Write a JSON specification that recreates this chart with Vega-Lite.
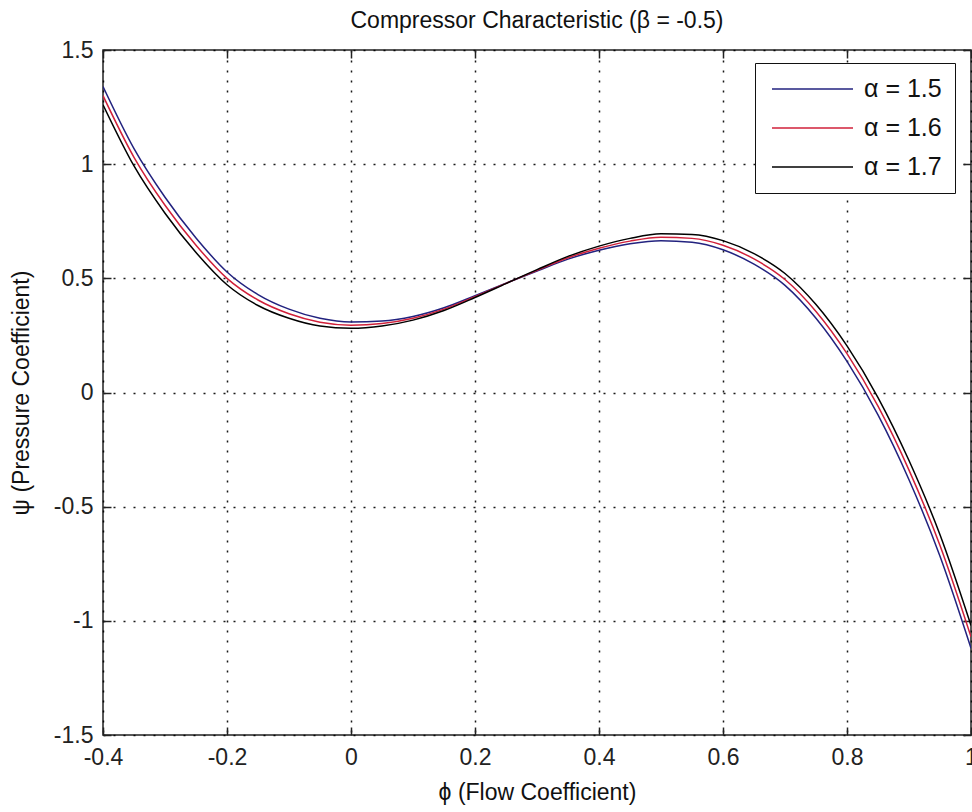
{
  "$schema": "https://vega.github.io/schema/vega-lite/v6.json",
  "autosize": {"type": "none"},
  "padding": {"left": 103, "top": 50, "right": 1, "bottom": 77},
  "width": 868,
  "height": 685,
  "background": "white",
  "title": {"text": "Compressor Characteristic (β = -0.5)", "fontSize": 23, "font": "Liberation Sans", "fontWeight": "normal", "color": "#111", "anchor": "middle", "offset": 6},
  "config": {
    "font": "Liberation Sans",
    "view": {"stroke": "#222", "strokeWidth": 1.5},
    "axis": {"labelFont": "Liberation Sans", "titleFont": "Liberation Sans", "labelFontSize": 23, "titleFontSize": 23, "titleFontWeight": "normal", "labelColor": "#222", "titleColor": "#111", "domain": false, "tickColor": "#222", "tickWidth": 1.5, "tickSize": -8, "labelFlush": false, "labelOverlap": false}
  },
  "data": {"values": [
    {"phi": -0.4, "psi": 1.34, "alpha": "α = 1.5"},
    {"phi": -0.35, "psi": 1.068, "alpha": "α = 1.5"},
    {"phi": -0.3, "psi": 0.855, "alpha": "α = 1.5"},
    {"phi": -0.25, "psi": 0.677, "alpha": "α = 1.5"},
    {"phi": -0.2, "psi": 0.528, "alpha": "α = 1.5"},
    {"phi": -0.15, "psi": 0.429, "alpha": "α = 1.5"},
    {"phi": -0.1, "psi": 0.365, "alpha": "α = 1.5"},
    {"phi": -0.05, "psi": 0.325, "alpha": "α = 1.5"},
    {"phi": 0, "psi": 0.309, "alpha": "α = 1.5"},
    {"phi": 0.05, "psi": 0.313, "alpha": "α = 1.5"},
    {"phi": 0.1, "psi": 0.333, "alpha": "α = 1.5"},
    {"phi": 0.15, "psi": 0.371, "alpha": "α = 1.5"},
    {"phi": 0.2, "psi": 0.424, "alpha": "α = 1.5"},
    {"phi": 0.25, "psi": 0.479, "alpha": "α = 1.5"},
    {"phi": 0.3, "psi": 0.532, "alpha": "α = 1.5"},
    {"phi": 0.35, "psi": 0.584, "alpha": "α = 1.5"},
    {"phi": 0.4, "psi": 0.623, "alpha": "α = 1.5"},
    {"phi": 0.45, "psi": 0.651, "alpha": "α = 1.5"},
    {"phi": 0.5, "psi": 0.665, "alpha": "α = 1.5"},
    {"phi": 0.55, "psi": 0.658, "alpha": "α = 1.5"},
    {"phi": 0.6, "psi": 0.625, "alpha": "α = 1.5"},
    {"phi": 0.65, "psi": 0.562, "alpha": "α = 1.5"},
    {"phi": 0.7, "psi": 0.469, "alpha": "α = 1.5"},
    {"phi": 0.75, "psi": 0.325, "alpha": "α = 1.5"},
    {"phi": 0.8, "psi": 0.136, "alpha": "α = 1.5"},
    {"phi": 0.85, "psi": -0.098, "alpha": "α = 1.5"},
    {"phi": 0.9, "psi": -0.382, "alpha": "α = 1.5"},
    {"phi": 0.95, "psi": -0.717, "alpha": "α = 1.5"},
    {"phi": 1.0, "psi": -1.12, "alpha": "α = 1.5"},
    {"phi": -0.4, "psi": 1.30, "alpha": "α = 1.6"},
    {"phi": -0.35, "psi": 1.03, "alpha": "α = 1.6"},
    {"phi": -0.3, "psi": 0.82, "alpha": "α = 1.6"},
    {"phi": -0.25, "psi": 0.645, "alpha": "α = 1.6"},
    {"phi": -0.2, "psi": 0.50, "alpha": "α = 1.6"},
    {"phi": -0.15, "psi": 0.405, "alpha": "α = 1.6"},
    {"phi": -0.1, "psi": 0.345, "alpha": "α = 1.6"},
    {"phi": -0.05, "psi": 0.308, "alpha": "α = 1.6"},
    {"phi": 0, "psi": 0.295, "alpha": "α = 1.6"},
    {"phi": 0.05, "psi": 0.302, "alpha": "α = 1.6"},
    {"phi": 0.1, "psi": 0.325, "alpha": "α = 1.6"},
    {"phi": 0.15, "psi": 0.365, "alpha": "α = 1.6"},
    {"phi": 0.2, "psi": 0.42, "alpha": "α = 1.6"},
    {"phi": 0.25, "psi": 0.478, "alpha": "α = 1.6"},
    {"phi": 0.3, "psi": 0.535, "alpha": "α = 1.6"},
    {"phi": 0.35, "psi": 0.59, "alpha": "α = 1.6"},
    {"phi": 0.4, "psi": 0.632, "alpha": "α = 1.6"},
    {"phi": 0.45, "psi": 0.663, "alpha": "α = 1.6"},
    {"phi": 0.5, "psi": 0.68, "alpha": "α = 1.6"},
    {"phi": 0.55, "psi": 0.675, "alpha": "α = 1.6"},
    {"phi": 0.6, "psi": 0.645, "alpha": "α = 1.6"},
    {"phi": 0.65, "psi": 0.585, "alpha": "α = 1.6"},
    {"phi": 0.7, "psi": 0.495, "alpha": "α = 1.6"},
    {"phi": 0.75, "psi": 0.355, "alpha": "α = 1.6"},
    {"phi": 0.8, "psi": 0.17, "alpha": "α = 1.6"},
    {"phi": 0.85, "psi": -0.06, "alpha": "α = 1.6"},
    {"phi": 0.9, "psi": -0.34, "alpha": "α = 1.6"},
    {"phi": 0.95, "psi": -0.67, "alpha": "α = 1.6"},
    {"phi": 1.0, "psi": -1.07, "alpha": "α = 1.6"},
    {"phi": -0.4, "psi": 1.26, "alpha": "α = 1.7"},
    {"phi": -0.35, "psi": 0.992, "alpha": "α = 1.7"},
    {"phi": -0.3, "psi": 0.785, "alpha": "α = 1.7"},
    {"phi": -0.25, "psi": 0.613, "alpha": "α = 1.7"},
    {"phi": -0.2, "psi": 0.472, "alpha": "α = 1.7"},
    {"phi": -0.15, "psi": 0.381, "alpha": "α = 1.7"},
    {"phi": -0.1, "psi": 0.325, "alpha": "α = 1.7"},
    {"phi": -0.05, "psi": 0.291, "alpha": "α = 1.7"},
    {"phi": 0, "psi": 0.281, "alpha": "α = 1.7"},
    {"phi": 0.05, "psi": 0.291, "alpha": "α = 1.7"},
    {"phi": 0.1, "psi": 0.317, "alpha": "α = 1.7"},
    {"phi": 0.15, "psi": 0.359, "alpha": "α = 1.7"},
    {"phi": 0.2, "psi": 0.416, "alpha": "α = 1.7"},
    {"phi": 0.25, "psi": 0.477, "alpha": "α = 1.7"},
    {"phi": 0.3, "psi": 0.538, "alpha": "α = 1.7"},
    {"phi": 0.35, "psi": 0.596, "alpha": "α = 1.7"},
    {"phi": 0.4, "psi": 0.641, "alpha": "α = 1.7"},
    {"phi": 0.45, "psi": 0.675, "alpha": "α = 1.7"},
    {"phi": 0.5, "psi": 0.695, "alpha": "α = 1.7"},
    {"phi": 0.55, "psi": 0.692, "alpha": "α = 1.7"},
    {"phi": 0.6, "psi": 0.665, "alpha": "α = 1.7"},
    {"phi": 0.65, "psi": 0.608, "alpha": "α = 1.7"},
    {"phi": 0.7, "psi": 0.521, "alpha": "α = 1.7"},
    {"phi": 0.75, "psi": 0.385, "alpha": "α = 1.7"},
    {"phi": 0.8, "psi": 0.204, "alpha": "α = 1.7"},
    {"phi": 0.85, "psi": -0.022, "alpha": "α = 1.7"},
    {"phi": 0.9, "psi": -0.298, "alpha": "α = 1.7"},
    {"phi": 0.95, "psi": -0.623, "alpha": "α = 1.7"},
    {"phi": 1.0, "psi": -1.02, "alpha": "α = 1.7"}
  ]},
  "layer": [
    {
      "mark": {"type": "line", "interpolate": "monotone", "strokeWidth": 1.5, "clip": true},
      "encoding": {
        "x": {"field": "phi", "type": "quantitative", "scale": {"domain": [-0.4, 1], "nice": false, "zero": false},
              "axis": {"orient": "bottom", "values": [-0.4, -0.2, 0, 0.2, 0.4, 0.6, 0.8, 1], "labelExpr": "'' + datum.value", "grid": true, "gridDash": [2, 8], "gridColor": "#000", "gridWidth": 1.5, "gridOpacity": 0.9, "labelPadding": 19, "title": "ϕ (Flow Coefficient)", "titlePadding": 12}},
        "y": {"field": "psi", "type": "quantitative", "scale": {"domain": [-1.5, 1.5], "nice": false, "zero": false},
              "axis": {"orient": "left", "values": [-1.5, -1, -0.5, 0, 0.5, 1, 1.5], "labelExpr": "'' + datum.value", "grid": true, "gridDash": [2, 8], "gridColor": "#000", "gridWidth": 1.5, "gridOpacity": 0.9, "labelPadding": 18, "title": "ψ (Pressure Coefficient)", "titlePadding": 20}},
        "color": {"field": "alpha", "type": "nominal",
                  "scale": {"domain": ["α = 1.5", "α = 1.6", "α = 1.7"], "range": ["#22227f", "#d0203a", "#000000"]},
                  "legend": {"orient": "none", "legendX": 652, "legendY": 13, "title": null, "symbolType": "M-3.375,0H3.375", "symbolSize": 576, "symbolOffset": 31.5, "symbolStrokeWidth": 1.5, "labelFontSize": 25, "labelFont": "Liberation Sans", "labelColor": "#111", "labelOffset": 38.5, "strokeColor": "#111", "fillColor": "white", "padding": 13, "rowPadding": 13}}
      }
    },
    {
      "mark": {"type": "line", "opacity": 0},
      "encoding": {
        "x": {"field": "phi", "type": "quantitative", "axis": {"orient": "top", "values": [-0.4, -0.2, 0, 0.2, 0.4, 0.6, 0.8, 1], "labels": false, "grid": false, "title": null}},
        "y": {"field": "psi", "type": "quantitative", "axis": {"orient": "right", "values": [-1.5, -1, -0.5, 0, 0.5, 1, 1.5], "labels": false, "grid": false, "title": null}},
        "detail": {"field": "alpha"}
      }
    }
  ],
  "resolve": {"axis": {"x": "independent", "y": "independent"}}
}
